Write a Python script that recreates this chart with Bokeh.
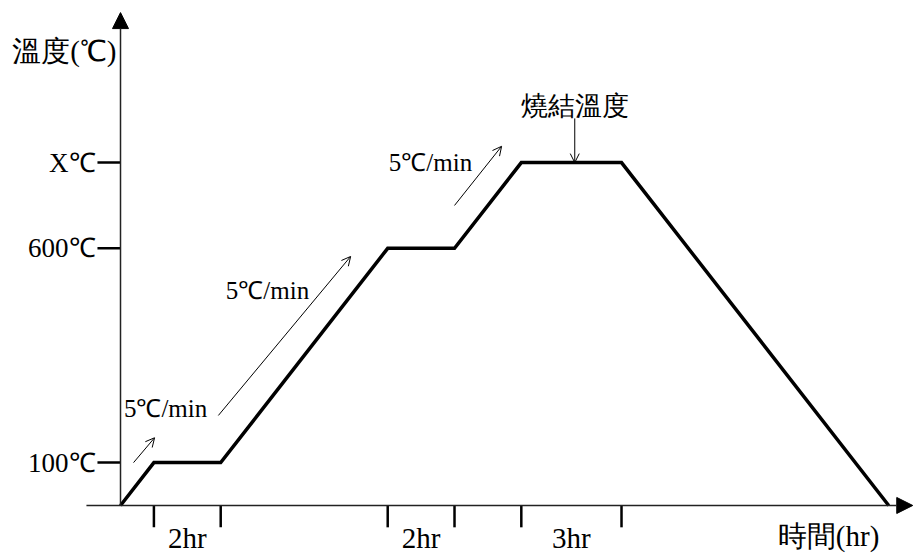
from bokeh.plotting import figure
from bokeh.models import Range1d, Arrow, NormalHead, OpenHead
from bokeh.core.properties import value
from bokeh.embed import file_html
from bokeh.resources import INLINE

# ---- data (schematic sintering profile) ----
time_pts = [0, 1, 3, 8, 10, 12, 15, 23]
temp_pts = [0, 100, 100, 600, 600, 800, 800, 0]
y_tick_vals = [100, 600, 800]
y_tick_labels = ["100℃", "600℃", "X℃"]
x_tick_vals = [1, 3, 8, 10, 12, 15]
dur_start = [1, 8, 12]
dur_end = [3, 10, 15]
dur_labels = ["2hr", "2hr", "3hr"]
rate_label = "5℃/min"
rate_arrow_x0 = [0.39, 2.93, 10.0]
rate_arrow_y0 = [100, 210, 700]
rate_arrow_x1 = [1.02, 6.89, 11.41]
rate_arrow_y1 = [158, 581, 838]
rate_text_x = [1.35, 4.4, 9.28]
rate_text_y = [226, 502, 800]
sinter_label = "燒結溫度"
sinter_x = 13.6
sinter_y = 800
y_axis_label = "溫度(℃)"
x_axis_label = "時間(hr)"
x_axis_end = 23.72
y_axis_end = 1150
x_axis_start = -1.02

FONT = value("Liberation Serif")

p = figure(width=914, height=554, output_backend="svg", toolbar_location=None,
           x_range=Range1d(-3.593, 23.772), y_range=Range1d(-114.4, 1178.2),
           x_axis_location=None, y_axis_location=None, min_border=0)
p.outline_line_color = None
p.xgrid.visible = False
p.ygrid.visible = False
p.background_fill_color = "white"

# axes with arrow heads
p.add_layout(Arrow(end=NormalHead(size=16, fill_color="black", line_color="black"),
                   x_start=x_axis_start, y_start=0, x_end=x_axis_end, y_end=0,
                   line_color="#222222", line_width=1.5))
p.add_layout(Arrow(end=NormalHead(size=16, fill_color="black", line_color="black"),
                   x_start=0, y_start=0, x_end=0, y_end=y_axis_end,
                   line_color="#222222", line_width=1.5))

# y ticks and labels
p.segment(x0=[-0.69] * len(y_tick_vals), y0=y_tick_vals, x1=[0] * len(y_tick_vals), y1=y_tick_vals,
          line_color="black", line_width=2.5)
p.text(x=[0] * len(y_tick_vals), y=y_tick_vals, text=y_tick_labels, x_offset=-25,
       text_align="right", text_baseline="middle", text_font=FONT, text_font_size="27px",
       text_color="black")

# x ticks
p.segment(x0=x_tick_vals, y0=[0] * len(x_tick_vals), x1=x_tick_vals, y1=[-51] * len(x_tick_vals),
          line_color="black", line_width=2.5)
mid = [(a + b) / 2 for a, b in zip(dur_start, dur_end)]
p.text(x=mid, y=[0] * len(mid), text=dur_labels, y_offset=33, text_align="center",
       text_baseline="middle", text_font=FONT, text_font_size="29px", text_color="black")

# profile
p.line(time_pts, temp_pts, line_color="black", line_width=3.5, line_join="miter")

# rate annotations
for xa, ya, xb, yb in zip(rate_arrow_x0, rate_arrow_y0, rate_arrow_x1, rate_arrow_y1):
    p.add_layout(Arrow(end=OpenHead(size=9, line_width=1, line_color="black"),
                       x_start=xa, y_start=ya, x_end=xb, y_end=yb,
                       line_color="black", line_width=1))
p.text(x=rate_text_x, y=rate_text_y, text=[rate_label] * len(rate_text_x),
       text_align="center", text_baseline="middle", text_font=FONT, text_font_size="25px",
       text_color="black")

# sintering temperature label
p.add_layout(Arrow(end=OpenHead(size=9, line_width=1, line_color="black"),
                   x_start=sinter_x, y_start=sinter_y + 103, x_end=sinter_x, y_end=sinter_y,
                   line_color="black", line_width=1))
p.text(x=[sinter_x], y=[sinter_y + 103], text=[sinter_label], y_offset=-12,
       text_align="center", text_baseline="middle", text_font=FONT, text_font_size="27px",
       text_color="black")

# axis titles
p.text(x=[0], y=[y_axis_end - 89], text=[y_axis_label], x_offset=-2, text_align="right",
       text_baseline="middle", text_font=FONT, text_font_size="29px", text_color="black")
p.text(x=[21.2], y=[0], text=[x_axis_label], y_offset=31, text_align="center",
       text_baseline="middle", text_font=FONT, text_font_size="29px", text_color="black")

open("out.html", "w").write(file_html(p, INLINE))
